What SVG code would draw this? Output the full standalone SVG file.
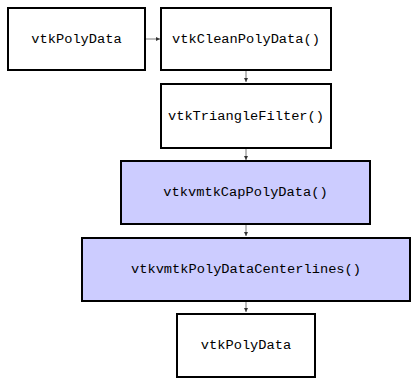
<svg xmlns="http://www.w3.org/2000/svg" width="420" height="388" viewBox="0 0 420 388">
<style>
.box{stroke:#000;stroke-width:2}
.w{fill:#fff}
.b{fill:#ccccff}
text{font-family:"Liberation Mono","DejaVu Sans Mono",monospace;font-size:13.7px;fill:#000;text-anchor:middle;dominant-baseline:central}
.c{stroke:#555;stroke-width:0.8;fill:none;marker-end:url(#ah)}
</style>
<defs>
<marker id="ah" viewBox="0 0 6 6" refX="6" refY="3" markerWidth="4" markerHeight="4" markerUnits="userSpaceOnUse" orient="auto">
<path d="M0,0 L6,3 L0,6 Z" fill="#333"/>
</marker>
</defs>
<g id="connectors">
<line class="c" x1="146" y1="39" x2="160" y2="39"/>
<line class="c" x1="246" y1="71" x2="246" y2="82"/>
<line class="c" x1="246" y1="149" x2="246" y2="160"/>
<line class="c" x1="246" y1="225" x2="246" y2="236"/>
<line class="c" x1="246" y1="302" x2="246" y2="312"/>
</g>
<g id="n1"><rect class="box w" x="8" y="8" width="137" height="62"/><text x="76.5" y="39">vtkPolyData</text></g>
<g id="n2"><rect class="box w" x="161" y="8" width="170" height="62"/><text x="246" y="39">vtkCleanPolyData()</text></g>
<g id="n3"><rect class="box w" x="161" y="84" width="170" height="64"/><text x="246" y="116">vtkTriangleFilter()</text></g>
<g id="n4"><rect class="box b" x="121" y="161" width="249" height="63"/><text x="245.5" y="192.5">vtkvmtkCapPolyData()</text></g>
<g id="n5"><rect class="box b" x="82" y="238" width="328" height="63"/><text x="246" y="269.5">vtkvmtkPolyDataCenterlines()</text></g>
<g id="n6"><rect class="box w" x="177" y="314" width="138" height="63"/><text x="246" y="345.5">vtkPolyData</text></g>
</svg>
